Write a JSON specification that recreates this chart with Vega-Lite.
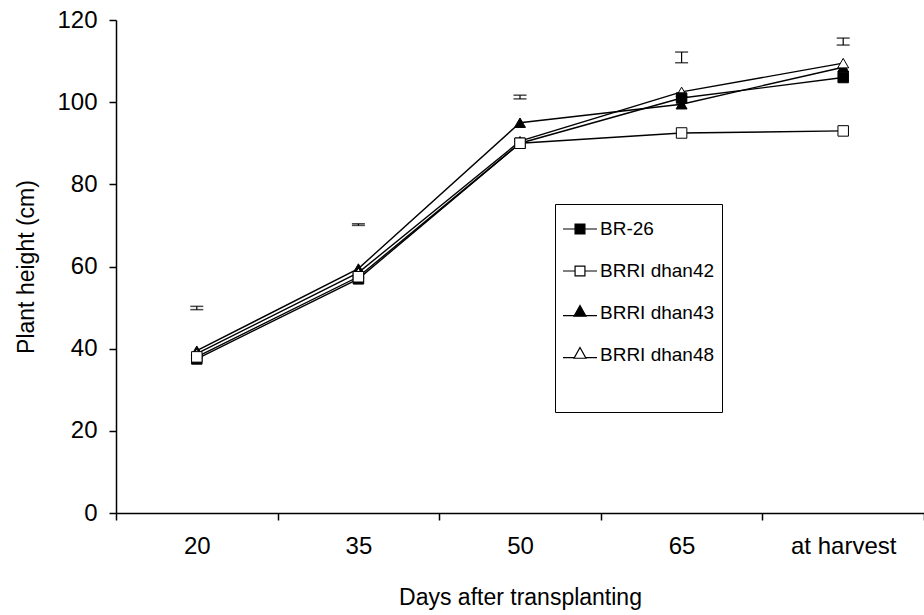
{
  "$schema": "https://vega.github.io/schema/vega-lite/v6.json",
  "autosize": {"type": "none"},
  "padding": {"left": 116, "top": 20, "right": 0, "bottom": 102},
  "width": 808,
  "height": 493,
  "background": "white",
  "config": {
    "view": {"stroke": null},
    "font": "Liberation Sans",
    "axis": {"labelFont": "Liberation Sans", "titleFont": "Liberation Sans", "labelColor": "black", "titleColor": "black", "domainColor": "black", "tickColor": "black", "labelFontSize": 24, "titleFontSize": 23, "titleFontWeight": "normal", "grid": false, "tickSize": 7, "domainWidth": 1.5, "tickWidth": 1.5}
  },
  "datasets": {
    "heights": [
      {"day": "20", "series": "BR-26", "height": 37.5},
      {"day": "35", "series": "BR-26", "height": 57},
      {"day": "50", "series": "BR-26", "height": 90},
      {"day": "65", "series": "BR-26", "height": 101},
      {"day": "at harvest", "series": "BR-26", "height": 106},
      {"day": "20", "series": "BRRI dhan42", "height": 38},
      {"day": "35", "series": "BRRI dhan42", "height": 57.5},
      {"day": "50", "series": "BRRI dhan42", "height": 90},
      {"day": "65", "series": "BRRI dhan42", "height": 92.5},
      {"day": "at harvest", "series": "BRRI dhan42", "height": 93},
      {"day": "20", "series": "BRRI dhan43", "height": 39.5},
      {"day": "35", "series": "BRRI dhan43", "height": 59.5},
      {"day": "50", "series": "BRRI dhan43", "height": 95},
      {"day": "65", "series": "BRRI dhan43", "height": 99.5},
      {"day": "at harvest", "series": "BRRI dhan43", "height": 108.5},
      {"day": "20", "series": "BRRI dhan48", "height": 38.8},
      {"day": "35", "series": "BRRI dhan48", "height": 58.5},
      {"day": "50", "series": "BRRI dhan48", "height": 90.5},
      {"day": "65", "series": "BRRI dhan48", "height": 102.5},
      {"day": "at harvest", "series": "BRRI dhan48", "height": 109.5}
    ],
    "errors": [
      {"day": "20", "lo": 49.5, "hi": 50.3},
      {"day": "35", "lo": 70.0, "hi": 70.4},
      {"day": "50", "lo": 100.8, "hi": 101.7},
      {"day": "65", "lo": 109.6, "hi": 112.2},
      {"day": "at harvest", "lo": 113.9, "hi": 115.6}
    ]
  },
  "layer": [
    {
      "data": {"name": "heights"},
      "mark": {"type": "line", "color": "black", "strokeWidth": 1.4},
      "encoding": {
        "x": {"field": "day", "type": "ordinal", "sort": ["20", "35", "50", "65", "at harvest"],
          "scale": {"paddingInner": 0, "paddingOuter": 0},
          "axis": {"title": "Days after transplanting", "labelAngle": 0, "tickBand": "extent", "labelPadding": 14, "titlePadding": 28}},
        "y": {"field": "height", "type": "quantitative", "scale": {"domain": [0, 120], "nice": false},
          "axis": {"title": "Plant height (cm)", "values": [0, 20, 40, 60, 80, 100, 120], "labelPadding": 12, "titlePadding": 18}},
        "detail": {"field": "series"}
      }
    },
    {
      "data": {"name": "heights"},
      "transform": [{"filter": {"field": "series", "oneOf": ["BRRI dhan43", "BRRI dhan48"]}}],
      "mark": {"type": "point", "shape": "triangle-up", "filled": true, "stroke": "black", "strokeWidth": 1, "size": 120, "opacity": 1},
      "encoding": {
        "x": {"field": "day", "type": "ordinal", "sort": ["20", "35", "50", "65", "at harvest"]},
        "y": {"field": "height", "type": "quantitative"},
        "fill": {"field": "series", "type": "nominal"}
      }
    },
    {
      "data": {"name": "heights"},
      "transform": [{"filter": {"field": "series", "oneOf": ["BR-26", "BRRI dhan42"]}}],
      "mark": {"type": "point", "shape": "square", "filled": true, "stroke": "black", "strokeWidth": 1, "size": 110, "opacity": 1},
      "encoding": {
        "x": {"field": "day", "type": "ordinal", "sort": ["20", "35", "50", "65", "at harvest"]},
        "y": {"field": "height", "type": "quantitative"},
        "fill": {"field": "series", "type": "nominal"}
      }
    },
    {
      "data": {"name": "heights"},
      "mark": {"type": "point", "filled": true, "stroke": "black", "strokeWidth": 1, "size": 1156, "opacity": 0},
      "encoding": {
        "x": {"field": "day", "type": "ordinal", "sort": ["20", "35", "50", "65", "at harvest"]},
        "y": {"field": "height", "type": "quantitative"},
        "shape": {"field": "series", "type": "nominal",
          "scale": {"domain": ["BR-26", "BRRI dhan42", "BRRI dhan43", "BRRI dhan48"],
            "range": [
              "M-1,0H-0.29M0.29,0H1M-0.29,-0.29H0.29V0.29H-0.29Z",
              "M-1,0H-0.29M0.29,0H1M-0.29,-0.29H0.29V0.29H-0.29Z",
              "M-1,0.16H1M0,-0.44L0.35,0.19H-0.35Z",
              "M-1,0.16H-0.32M0.32,0.16H1M0,-0.44L0.35,0.19H-0.35Z"
            ]},
          "legend": {"title": " ", "titleOrient": "bottom", "titleFontSize": 20, "titlePadding": 20,
            "orient": "none", "legendX": 439, "legendY": 184, "padding": 7,
            "strokeColor": "black", "fillColor": "white", "symbolOpacity": 1, "symbolSize": 1156,
            "symbolStrokeColor": "black", "symbolStrokeWidth": 1.2, "rowPadding": 14,
            "labelFont": "Liberation Sans", "labelFontSize": 19, "labelColor": "black", "labelOffset": 2,
            "encode": {"symbols": {"update": {"stroke": {"value": "black"}, "strokeWidth": {"value": 1.2}, "opacity": {"value": 1}}}}}},
        "fill": {"field": "series", "type": "nominal",
          "scale": {"domain": ["BR-26", "BRRI dhan42", "BRRI dhan43", "BRRI dhan48"], "range": ["black", "white", "black", "white"]},
          "legend": {"title": " ", "titleOrient": "bottom", "titleFontSize": 20, "titlePadding": 20,
            "orient": "none", "legendX": 439, "legendY": 184, "padding": 7,
            "strokeColor": "black", "fillColor": "white", "symbolOpacity": 1, "symbolSize": 1156,
            "symbolStrokeColor": "black", "symbolStrokeWidth": 1.2, "rowPadding": 14,
            "labelFont": "Liberation Sans", "labelFontSize": 19, "labelColor": "black", "labelOffset": 2,
            "encode": {"symbols": {"update": {"stroke": {"value": "black"}, "strokeWidth": {"value": 1.2}, "opacity": {"value": 1}}}}}}
      }
    },
    {
      "data": {"name": "errors"},
      "mark": {"type": "rule", "color": "black", "strokeWidth": 1.2},
      "encoding": {
        "x": {"field": "day", "type": "ordinal", "sort": ["20", "35", "50", "65", "at harvest"]},
        "y": {"field": "lo", "type": "quantitative"},
        "y2": {"field": "hi"}
      }
    },
    {
      "data": {"name": "errors"},
      "mark": {"type": "tick", "color": "black", "size": 13, "thickness": 1.5},
      "encoding": {
        "x": {"field": "day", "type": "ordinal", "sort": ["20", "35", "50", "65", "at harvest"]},
        "y": {"field": "lo", "type": "quantitative"}
      }
    },
    {
      "data": {"name": "errors"},
      "mark": {"type": "tick", "color": "black", "size": 13, "thickness": 1.5},
      "encoding": {
        "x": {"field": "day", "type": "ordinal", "sort": ["20", "35", "50", "65", "at harvest"]},
        "y": {"field": "hi", "type": "quantitative"}
      }
    }
  ]
}
